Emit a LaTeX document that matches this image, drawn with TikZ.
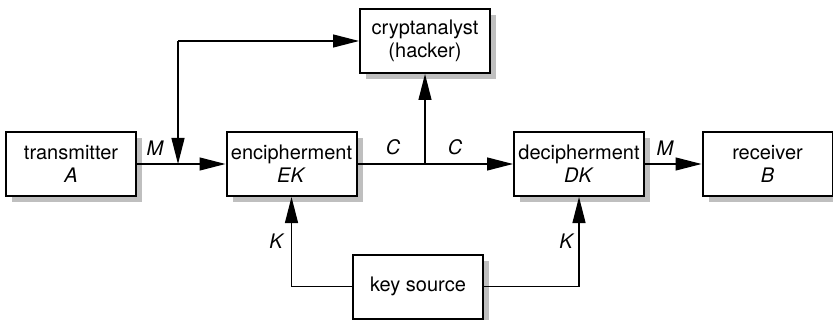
\documentclass[tikz,border=0pt]{standalone}
\usepackage{fontspec}
\setmainfont{TeX Gyre Heros}
\usetikzlibrary{arrows.meta,shadows}

\tikzset{
  block/.style={draw,line width=1pt,fill=white,align=center,
    minimum width=65pt,minimum height=32pt,inner sep=2pt,
    font=\fontsize{10}{11.5}\selectfont,
    drop shadow={shadow xshift=3.2pt,shadow yshift=-3.2pt,fill=black!25,opacity=1}},
  flow/.style={draw=black,line width=0.6pt,-{Triangle[length=13pt,width=6.5pt]}},
  sig/.style={font=\fontsize{10}{12}\selectfont\itshape}
}

\begin{document}
\begin{tikzpicture}[x=0.5pt,y=-0.5pt]
        \useasboundingbox (0,0) rectangle (833,320);
        \begin{scope}[every node/.style={block}]
            \node (tx)  at (71,164)    {transmitter\\\textit{A}};
            \node (enc) at (291.5,164) {encipherment\\\textit{EK}};
            \node (hk)  at (425,41)    {cryptanalyst\\(hacker)};
            \node (dec) at (579,164)   {decipherment\\\textit{DK}};
            \node (rx)  at (767.5,164) {receiver\\\textit{B}};
            \node (ks)  at (418,286.5) {key source};
        \end{scope}
        \coordinate (join) at (178,164);
        \coordinate (tap)  at (178,41);
        \coordinate (fork) at (425,164);
        \begin{scope}[every edge/.style={flow}]
            \path (tx)   edge (enc)
                  (tap)  edge (join)
                  (tap)  edge (hk)
                  (enc)  edge (dec)
                  (fork) edge (hk)
                  (dec)  edge (rx);
        \end{scope}
        \draw[flow] (ks.west) -| (enc.south);
        \draw[flow] (ks.east) -| (dec.south);
        % signal names
        \begin{scope}[every node/.style={sig}]
            \node (m1) at (155,148) {M};
            \node (c1) at (393,147) {C};
            \node (c2) at (455,147) {C};
            \node (m2) at (665,148) {M};
            \node (k1) at (276,241) {K};
            \node (k2) at (566,241) {K};
        \end{scope}
    \end{tikzpicture}
\end{document}
